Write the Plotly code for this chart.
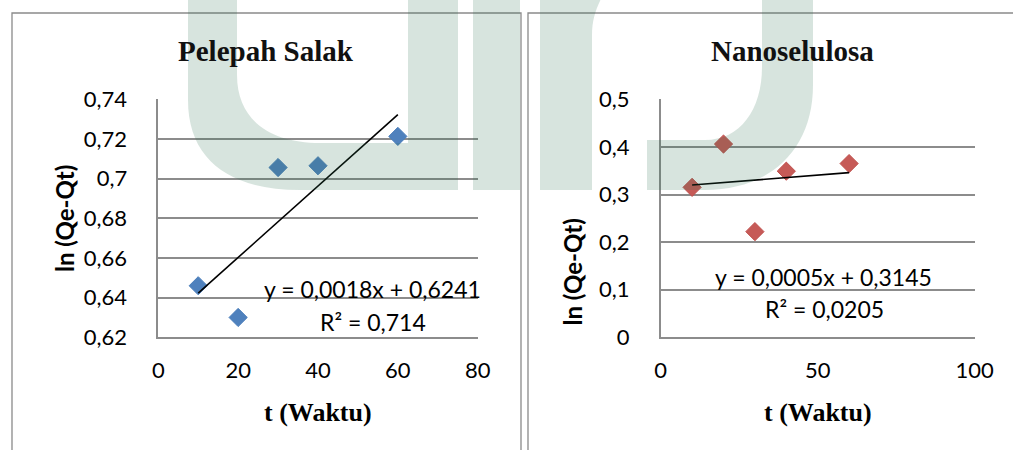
import numpy as np
import plotly.graph_objects as go

# ---------------- data ----------------
t_waktu = [10, 20, 30, 40, 60]
ln_salak = [0.646, 0.630, 0.7056, 0.7065, 0.7213]
ln_nano = [0.315, 0.406, 0.222, 0.349, 0.365]

titles = ["Pelepah Salak", "Nanoselulosa"]
x_title = "t (Waktu)"
y_title = "ln (Qe-Qt)"

eq_salak = ["y = 0,0018x + 0,6241", "R² = 0,714"]
eq_nano = ["y = 0,0005x + 0,3145", "R² = 0,0205"]

x1_ticks = [0, 20, 40, 60, 80]
x1_labels = ["0", "20", "40", "60", "80"]
y1_ticks = [0.62, 0.64, 0.66, 0.68, 0.70, 0.72, 0.74]
y1_labels = ["0,62", "0,64", "0,66", "0,68", "0,7", "0,72", "0,74"]

x2_ticks = [0, 50, 100]
x2_labels = ["0", "50", "100"]
y2_ticks = [0, 0.1, 0.2, 0.3, 0.4, 0.5]
y2_labels = ["0", "0,1", "0,2", "0,3", "0,4", "0,5"]

# ---------------- geometry helpers ----------------
W, H = 1013, 450


def px(x):
    return x / W


def py(y):
    return 1 - y / H


def path(cmds):
    out = []
    for c in cmds:
        op = c[0]
        pts = c[1:]
        s = op
        for i in range(0, len(pts), 2):
            s += " %.5f,%.5f" % (px(pts[i]), py(pts[i + 1]))
        out.append(s)
    return " ".join(out) + " Z"


GRID = "#8c8c8c"
TICKFONT = dict(family="Lato, Carlito, sans-serif", size=22, color="#000000")
SERIF = "Liberation Serif, Times New Roman, serif"

fig = go.Figure()

# ---------------- traces ----------------
fig.add_trace(go.Scatter(
    x=t_waktu, y=ln_salak, mode="markers", xaxis="x", yaxis="y",
    marker=dict(symbol="diamond", size=14, color="#4F81BD",
                line=dict(width=1, color="#4A7EBB")),
    showlegend=False))
m1, b1 = np.polyfit(t_waktu, ln_salak, 1)
xs1 = [min(t_waktu), max(t_waktu)]
fig.add_trace(go.Scatter(
    x=xs1, y=[m1 * v + b1 for v in xs1], mode="lines", xaxis="x", yaxis="y",
    line=dict(color="#000000", width=1.6), showlegend=False))

fig.add_trace(go.Scatter(
    x=t_waktu, y=ln_nano, mode="markers", xaxis="x2", yaxis="y2",
    marker=dict(symbol="diamond", size=14, color="#C65A57",
                line=dict(width=1, color="#C0504D")),
    showlegend=False))
m2, b2 = np.polyfit(t_waktu, ln_nano, 1)
xs2 = [min(t_waktu), max(t_waktu)]
fig.add_trace(go.Scatter(
    x=xs2, y=[m2 * v + b2 for v in xs2], mode="lines", xaxis="x2", yaxis="y2",
    line=dict(color="#000000", width=1.6), showlegend=False))

# ---------------- axes ----------------
common_x = dict(showgrid=False, zeroline=False, showline=True, linecolor=GRID,
                linewidth=1.5, ticks="", tickfont=TICKFONT, ticklabelstandoff=13,
                automargin=False)
common_y = dict(showgrid=True, gridcolor=GRID, gridwidth=1.5, zeroline=False,
                showline=True, linecolor=GRID, linewidth=1.5, ticks="",
                tickfont=TICKFONT, ticklabelstandoff=25, automargin=False)

fig.update_layout(
    template="none",
    xaxis=dict(domain=[px(158.3), px(477.7)], range=[0, 80], anchor="y",
               tickvals=x1_ticks, ticktext=x1_labels, **common_x),
    yaxis=dict(domain=[py(337.3), py(99.3)], range=[0.62, 0.74], anchor="x",
               tickvals=y1_ticks, ticktext=y1_labels, **common_y),
    xaxis2=dict(domain=[px(660.7), px(974.7)], range=[0, 100], anchor="y2",
                tickvals=x2_ticks, ticktext=x2_labels, **common_x),
    yaxis2=dict(domain=[py(337.3), py(99.3)], range=[0, 0.5], anchor="x2",
                tickvals=y2_ticks, ticktext=y2_labels, **common_y),
)

# ---------------- annotations ----------------
ann = []


def add_text(text, x, y, font, angle=0):
    ann.append(dict(text=text, x=px(x), y=py(y), xref="paper", yref="paper",
                    xanchor="center", yanchor="middle", showarrow=False,
                    font=font, textangle=angle))


title_font = dict(family=SERIF, size=29, color="#111111")
xt_font = dict(family=SERIF, size=26, color="#000000")
yt_font = dict(family="Lato, Carlito, sans-serif", size=24, color="#000000")
eq_font = dict(family="Lato, Carlito, sans-serif", size=23, color="#000000")

add_text("<b>%s</b>" % titles[0], 266, 51, title_font)
add_text("<b>%s</b>" % titles[1], 792, 51, title_font)
add_text("<b>%s</b>" % x_title, 318, 412, xt_font)
add_text("<b>%s</b>" % x_title, 817.5, 412, xt_font)
add_text("<b>%s</b>" % y_title, 64, 218, yt_font, -90)
add_text("<b>%s</b>" % y_title, 571.5, 272, yt_font, -90)
add_text(eq_salak[0], 372, 289, eq_font)
add_text(eq_salak[1], 372.5, 322, eq_font)
add_text(eq_nano[0], 823.5, 277, eq_font)
add_text(eq_nano[1], 824, 309, eq_font)

# ---------------- shapes: chart borders + watermark ----------------
shapes = []
for (x0, x1) in [(12, 521), (528, 1060)]:
    shapes.append(dict(type="rect", xref="paper", yref="paper",
                       x0=px(x0), x1=px(x1), y0=py(470), y1=py(13),
                       line=dict(color="#8a8a8a", width=1.3), layer="below"))

WM = dict(fillcolor="rgb(40,110,80)", opacity=0.19, line=dict(width=0),
          layer="above", xref="paper", yref="paper", type="path")

# "u" shape
shapes.append(dict(path=path([
    ("M", 188, -5), ("L", 237, -5), ("L", 237, 75),
    ("C", 237, 120, 270, 143, 320, 143), ("L", 408, 143),
    ("L", 408, -5), ("L", 458, -5), ("L", 458, 190), ("L", 300, 190),
    ("C", 230, 190, 188, 160, 188, 100),
]), **WM))
# bar
shapes.append(dict(path=path([
    ("M", 473, -5), ("L", 520, -5), ("L", 520, 190), ("L", 473, 190),
]), **WM))
# shoulder bar
shapes.append(dict(path=path([
    ("M", 540, -5), ("L", 603, -5), ("C", 596, 8, 592, 20, 592, 35),
    ("L", 592, 190), ("L", 540, 190),
]), **WM))
# bowl
shapes.append(dict(path=path([
    ("M", 647, 140), ("L", 705, 140), ("C", 740, 140, 762, 110, 762, 67),
    ("L", 762, -5), ("L", 813, -5), ("L", 813, 85),
    ("C", 813, 150, 770, 190, 705, 190), ("L", 647, 190),
]), **WM))

fig.update_layout(
    width=W, height=H,
    margin=dict(l=0, r=0, t=0, b=0, pad=0, autoexpand=False),
    paper_bgcolor="white", plot_bgcolor="rgba(0,0,0,0)",
    annotations=ann, shapes=shapes, showlegend=False,
)

fig.write_html(
    "out.html",
    config={"displayModeBar": False},
    post_script="document.documentElement.style.margin='0';"
                "document.body.style.margin='0';"
                "document.body.style.overflow='hidden';",
)
